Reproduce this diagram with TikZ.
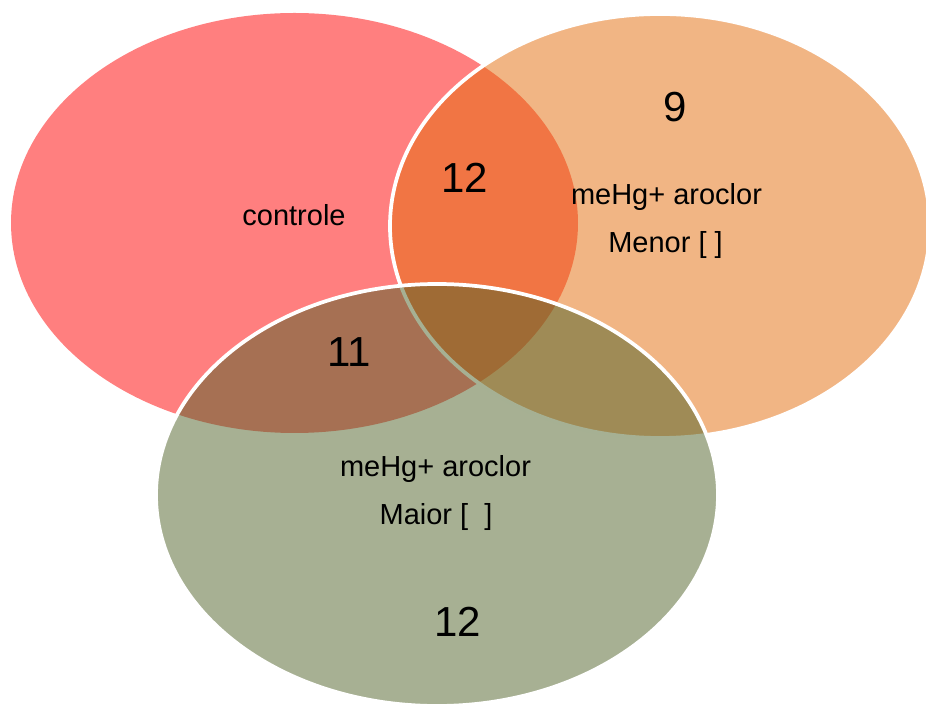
\documentclass[tikz,border=0pt]{standalone}
\usepackage{fontspec}
\setmainfont{Liberation Sans}

\definecolor{controlered}{RGB}{255,0,0}
\definecolor{menororange}{RGB}{228,108,10}
\definecolor{maiorgreen}{RGB}{79,98,40}

\tikzset{every picture/.style={line width=0.75pt}}
\tikzset{
	setfill/.style={fill opacity=0.5, draw=white, draw opacity=1, line width=2.8pt},
	setlabel/.style={inner sep=0pt, anchor=base, font=\fontsize{21.75}{26}\selectfont},
	setcount/.style={inner sep=0pt, anchor=base, font=\fontsize{31.5}{38}\selectfont}
}

\begin{document}
\begin{tikzpicture}[x=0.75pt,y=0.75pt,yscale=-1,xscale=1]
	\useasboundingbox (0,0) rectangle (926,705);
	\clip (0,0) rectangle (926,705);

	%Shape: Ellipse [controle]
	\fill  [controlered, fill opacity=0.5] (294.5,223) ellipse [x radius=283.5, y radius=210] ;
	%Shape: Ellipse [menor]
	\filldraw  [fill=menororange, setfill] (660,226) ellipse [x radius=270, y radius=212] ;
	%Shape: Ellipse [maior]
	\filldraw  [fill=maiorgreen, setfill] (437,495) ellipse [x radius=281, y radius=211] ;

	%Text labels
	\node [setlabel] (controle) at (294,226) {controle};
	\node [setlabel] (menorname) at (666.5,205) {meHg+ aroclor};
	\node [setlabel] (menordose) at (665.5,253) {Menor [ ]};
	\node [setlabel] (maiorname) at (435.5,477) {meHg+ aroclor};
	\node [setlabel] (maiordose) at (436,525) {Maior [\ \ ]};

	%Counts
	\node [setcount] (redorange) at (464.5,193) {12};
	\node [setcount] (orangeonly) at (675.5,122) {9};
	\node [setcount] (redgreen) at (349,367) {11};
	\node [setcount] (greenonly) at (457.5,637) {12};
\end{tikzpicture}
\end{document}
